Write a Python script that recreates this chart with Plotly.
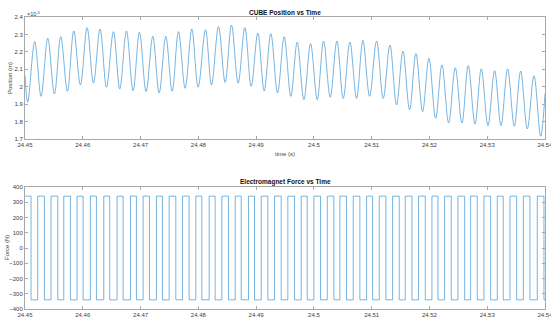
import plotly.graph_objects as go
from plotly.subplots import make_subplots

# ---- data ----
# CUBE position: successive extrema (time in s, position in 1e-3 m)
pos_t = [24.45000, 24.45047, 24.45168, 24.45278, 24.45394, 24.45509, 24.45619, 24.45734,
         24.45844, 24.45959, 24.46075, 24.46184, 24.46300, 24.46410, 24.46531, 24.46640,
         24.46756, 24.46871, 24.46981, 24.47096, 24.47212, 24.47322, 24.47437, 24.47547,
         24.47656, 24.47772, 24.47887, 24.47997, 24.48124, 24.48228, 24.48349, 24.48464,
         24.48574, 24.48689, 24.48805, 24.48915, 24.49030, 24.49140, 24.49255, 24.49371,
         24.49486, 24.49601, 24.49711, 24.49827, 24.49942, 24.50058, 24.50167, 24.50283,
         24.50398, 24.50508, 24.50623, 24.50739, 24.50848, 24.50964, 24.51085, 24.51200,
         24.51316, 24.51431, 24.51541, 24.51656, 24.51766, 24.51881, 24.51991, 24.52107,
         24.52216, 24.52332, 24.52447, 24.52562, 24.52672, 24.52788, 24.52897, 24.53013,
         24.53128, 24.53238, 24.53353, 24.53469, 24.53578, 24.53694, 24.53809, 24.53925,
         24.54000]
pos_mm = [2.064, 1.911, 2.259, 1.945, 2.278, 1.958, 2.287, 1.974,
          2.320, 2.010, 2.339, 2.021, 2.331, 1.997, 2.316, 1.987,
          2.320, 1.977, 2.312, 1.972, 2.289, 1.964, 2.289, 1.974,
          2.316, 1.991, 2.331, 1.997, 2.327, 2.010, 2.345, 2.025,
          2.354, 2.021, 2.339, 2.002, 2.308, 1.976, 2.304, 1.964,
          2.287, 1.945, 2.255, 1.926, 2.247, 1.926, 2.262, 1.939,
          2.262, 1.933, 2.255, 1.933, 2.266, 1.945, 2.262, 1.933,
          2.239, 1.895, 2.205, 1.868, 2.190, 1.857, 2.163, 1.819,
          2.125, 1.792, 2.109, 1.792, 2.121, 1.786, 2.102, 1.777,
          2.092, 1.777, 2.102, 1.773, 2.090, 1.758, 2.063, 1.716,
          1.960]

# Electromagnet force: switching times (s) and the level held after each switch (N)
force_t = [24.45000, 24.45105, 24.45220, 24.45336, 24.45451, 24.45567, 24.45671, 24.45786,
           24.45902, 24.46006, 24.46132, 24.46236, 24.46363, 24.46467, 24.46594, 24.46698,
           24.46825, 24.46929, 24.47044, 24.47154, 24.47275, 24.47379, 24.47495, 24.47610,
           24.47726, 24.47841, 24.47956, 24.48060, 24.48187, 24.48291, 24.48407, 24.48522,
           24.48638, 24.48742, 24.48868, 24.48972, 24.49088, 24.49203, 24.49319, 24.49434,
           24.49549, 24.49665, 24.49780, 24.49884, 24.50000, 24.50115, 24.50231, 24.50346,
           24.50450, 24.50565, 24.50681, 24.50796, 24.50912, 24.51016, 24.51131, 24.51246,
           24.51362, 24.51477, 24.51581, 24.51697, 24.51812, 24.51928, 24.52043, 24.52147,
           24.52262, 24.52378, 24.52493, 24.52609, 24.52713, 24.52828, 24.52943, 24.53059,
           24.53174, 24.53278, 24.53394, 24.53509, 24.53625, 24.53740, 24.53867, 24.53982,
           24.54000]
force_N = [340, -340, 340, -340, 340, -340, 340, -340,
           340, -340, 340, -340, 340, -340, 340, -340,
           340, -340, 340, -340, 340, -340, 340, -340,
           340, -340, 340, -340, 340, -340, 340, -340,
           340, -340, 340, -340, 340, -340, 340, -340,
           340, -340, 340, -340, 340, -340, 340, -340,
           340, -340, 340, -340, 340, -340, 340, -340,
           340, -340, 340, -340, 340, -340, 340, -340,
           340, -340, 340, -340, 340, -340, 340, -340,
           340, -340, 340, -340, 340, -340, 340, -340,
           -340]

x_ticks = [24.45, 24.46, 24.47, 24.48, 24.49, 24.50, 24.51, 24.52, 24.53, 24.54]
x_ticklabels = ["24.45", "24.46", "24.47", "24.48", "24.49", "24.5",
                "24.51", "24.52", "24.53", "24.54"]
pos_ticks = [1.7, 1.8, 1.9, 2.0, 2.1, 2.2, 2.3, 2.4]
pos_ticklabels = ["1.7", "1.8", "1.9", "2", "2.1", "2.2", "2.3", "2.4"]
force_ticks = [-400, -300, -200, -100, 0, 100, 200, 300, 400]

# ---- figure ----
FONT = "Liberation Sans, Arial, sans-serif"
LINE = "#3d93d3"
AX = "#a8a8a8"
TXT = "#404040"

fig = make_subplots(rows=2, cols=1, vertical_spacing=0.0)

fig.add_trace(go.Scatter(x=pos_t, y=pos_mm, mode="lines",
                         line=dict(color=LINE, width=0.7, shape="spline", smoothing=1.0),
                         showlegend=False, hoverinfo="skip"), row=1, col=1)
fig.add_trace(go.Scatter(x=force_t, y=force_N, mode="lines",
                         line=dict(color=LINE, width=0.7, shape="hv"),
                         showlegend=False, hoverinfo="skip"), row=2, col=1)

common_x = dict(range=[24.45 - 1e-7, 24.54 + 1e-7], tickvals=x_ticks, ticktext=x_ticklabels,
                ticks="inside", ticklen=3, tickcolor=AX, showline=True, linecolor=AX,
                linewidth=1, mirror="ticks", showgrid=False, zeroline=False,
                automargin=False, ticklabeloverflow="allow",
                tickfont=dict(family=FONT, size=6, color=TXT))
common_y = dict(ticks="inside", ticklen=3, tickcolor=AX, showline=True, linecolor=AX,
                linewidth=1, mirror="ticks", showgrid=False, zeroline=False,
                automargin=False,
                tickfont=dict(family=FONT, size=6, color=TXT))

fig.update_xaxes(**common_x, domain=[0, 1])
fig.update_yaxes(**common_y)
fig.update_yaxes(range=[1.7, 2.4], tickvals=pos_ticks, ticktext=pos_ticklabels,
                 domain=[0.5822, 1.0], row=1, col=1)
fig.update_yaxes(range=[-400, 400], tickvals=force_ticks,
                 domain=[0.0, 0.4178], row=2, col=1)

ann_font = dict(family=FONT, size=6, color=TXT)
annotations = [
    dict(text="<b>CUBE Position vs Time</b>", xref="paper", yref="paper", x=0.5, y=1.0,
         yshift=-1, xanchor="center", yanchor="bottom", showarrow=False,
         font=dict(family=FONT, size=6.5, color="#111111")),
    dict(text="<b>Electromagnet Force vs Time</b>", xref="paper", yref="paper", x=0.5,
         y=0.4178, yshift=-1, xanchor="center", yanchor="bottom", showarrow=False,
         font=dict(family=FONT, size=6.5, color="#111111")),
    dict(text="time (s)", xref="paper", yref="paper", x=0.5, y=0.5822, yshift=-10,
         xanchor="center", yanchor="top", showarrow=False, font=ann_font),
    dict(text="time (s)", xref="paper", yref="paper", x=0.5, y=0.0, yshift=-8,
         xanchor="center", yanchor="top", showarrow=False, font=ann_font),
    dict(text="Position (m)", xref="paper", yref="paper", x=0.0, xshift=-15,
         y=(0.5822 + 1.0) / 2, xanchor="center", yanchor="middle", textangle=-90,
         showarrow=False, font=ann_font),
    dict(text="Force (N)", xref="paper", yref="paper", x=0.0, xshift=-18,
         y=0.4178 / 2, xanchor="center", yanchor="middle", textangle=-90,
         showarrow=False, font=ann_font),
    dict(text="×10<sup>-3</sup>", xref="paper", yref="paper", x=0.0, y=1.0, yshift=-2,
         xanchor="left", yanchor="bottom", showarrow=False,
         font=dict(family=FONT, size=5.5, color=TXT)),
]

fig.update_layout(
    width=551, height=320,
    margin=dict(l=25, r=6, t=17, b=11),
    paper_bgcolor="white", plot_bgcolor="white",
    annotations=annotations,
    showlegend=False,
    hovermode=False,
)

fig.write_html("out.html", config={"displayModeBar": False},
               post_script="document.body.style.margin='0';document.body.style.overflow='hidden';")
